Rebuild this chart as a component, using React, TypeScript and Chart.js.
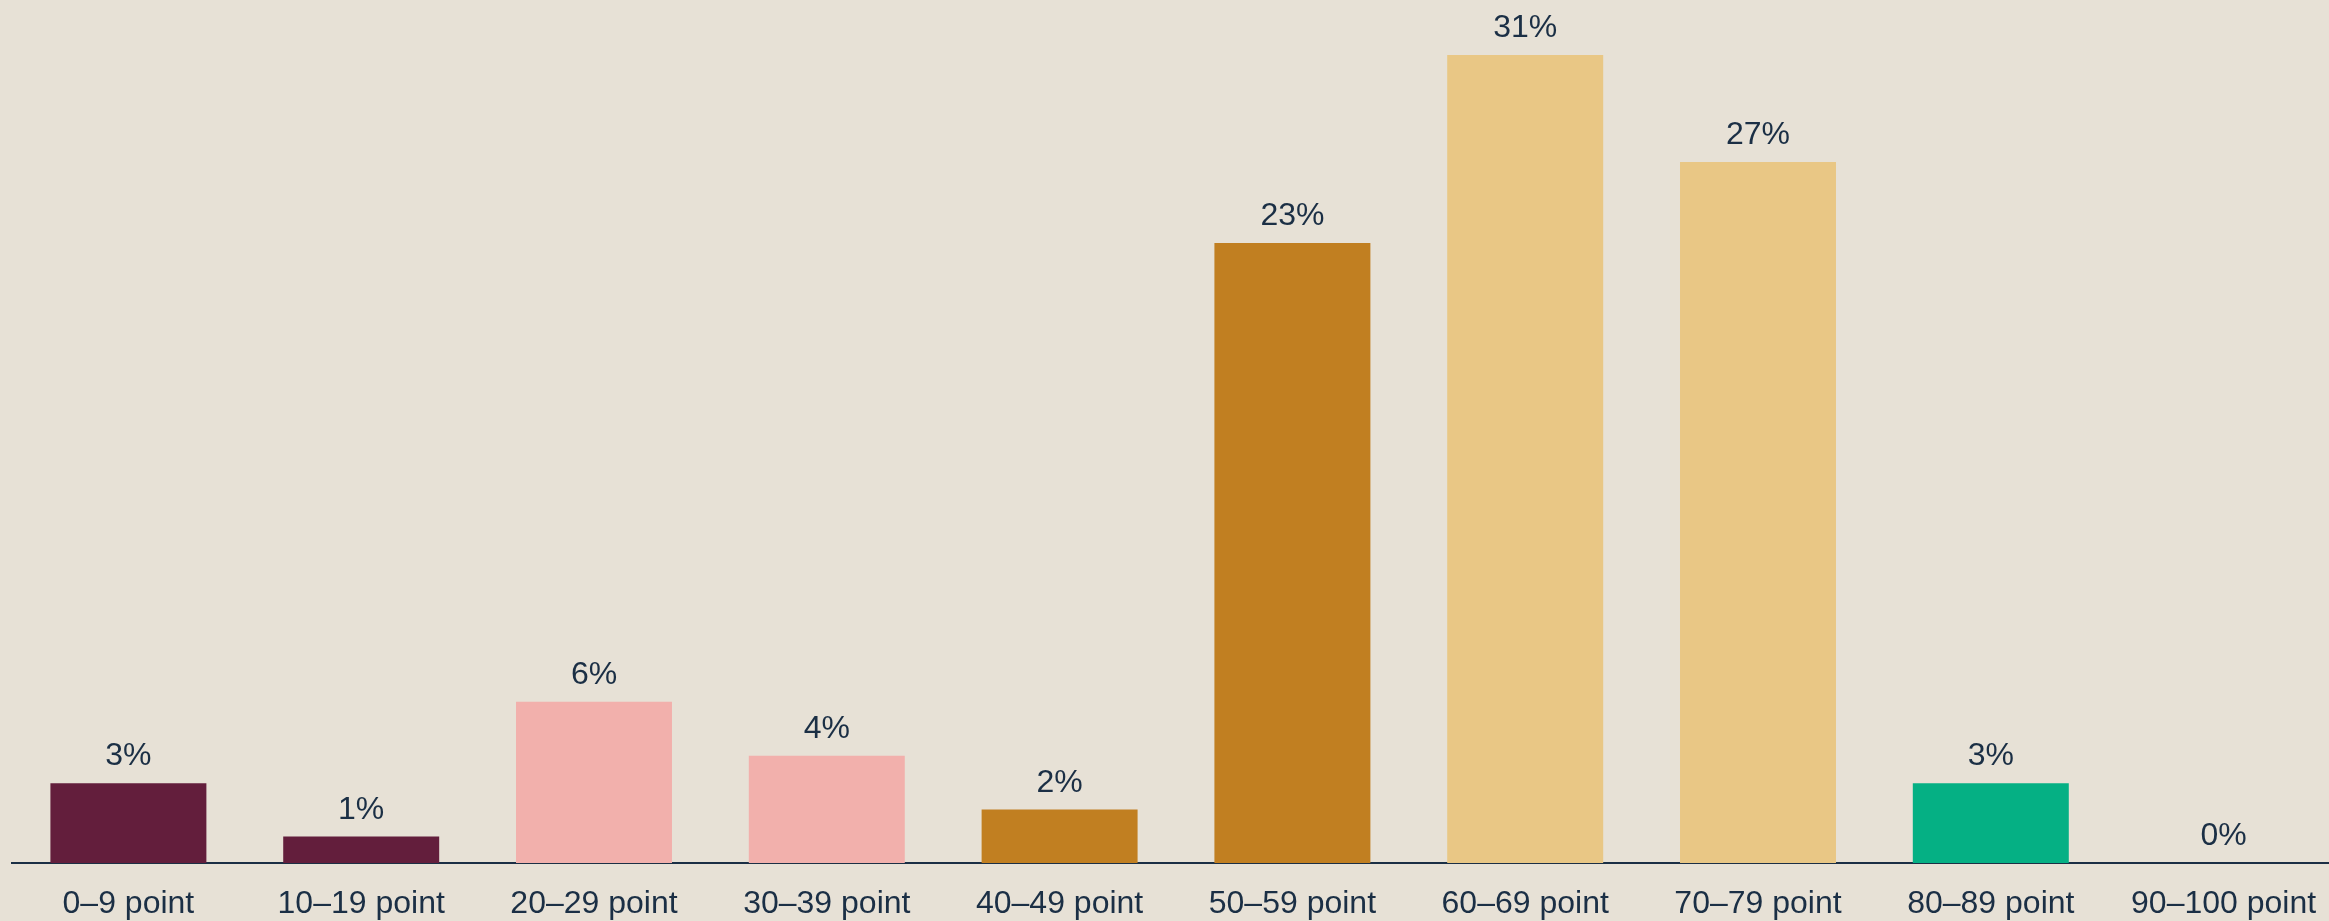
import React, { useEffect, useRef } from "react";
import { Chart, registerables } from "chart.js";

Chart.register(...registerables);

const categories = [
  "0–9 point",
  "10–19 point",
  "20–29 point",
  "30–39 point",
  "40–49 point",
  "50–59 point",
  "60–69 point",
  "70–79 point",
  "80–89 point",
  "90–100 point",
];

// share of respondents (%)
const shares = [3.02, 1.0, 6.1, 4.06, 2.02, 23.45, 30.56, 26.52, 3.02, 0];

// printed labels above the bars
const shareLabels = ["3%", "1%", "6%", "4%", "2%", "23%", "31%", "27%", "3%", "0%"];

const barColors = [
  "#631e3c",
  "#631e3c",
  "#f2b0ac",
  "#f2b0ac",
  "#c17f21",
  "#c17f21",
  "#e9c785",
  "#e9c785",
  "#05b084",
  "#05b084",
];

const TEXT = "#1b2f45";
const BG = "#e7e1d6";
const FONT = "'Liberation Sans', Arial, Helvetica, sans-serif";

const valueLabelPlugin = {
  id: "valueLabels",
  afterDatasetsDraw(chart: any) {
    const ctx = chart.ctx;
    const meta = chart.getDatasetMeta(0);
    ctx.save();
    ctx.fillStyle = TEXT;
    ctx.font = `32px ${FONT}`;
    ctx.textAlign = "center";
    ctx.textBaseline = "alphabetic";
    meta.data.forEach((bar: any, i: number) => {
      ctx.fillText(shareLabels[i], bar.x, bar.y - 18);
    });
    ctx.restore();
  },
};

export default function App() {
  const ref = useRef<HTMLCanvasElement | null>(null);

  useEffect(() => {
    if (!ref.current) return;
    const chart = new Chart(ref.current, {
      type: "bar",
      data: {
        labels: categories,
        datasets: [
          {
            data: shares,
            backgroundColor: barColors,
            borderWidth: 0,
            categoryPercentage: 1,
            barPercentage: 0.67,
          },
        ],
      },
      options: {
        responsive: false,
        animation: false,
        devicePixelRatio: 1,
        layout: { padding: { left: 12, right: 5, top: 17, bottom: 0 } },
        plugins: {
          legend: { display: false },
          tooltip: { enabled: false },
        },
        scales: {
          x: {
            grid: { display: false },
            border: { display: true, color: TEXT, width: 2 },
            ticks: {
              color: TEXT,
              font: { family: FONT, size: 32 },
              padding: 14,
              maxRotation: 0,
              autoSkip: false,
            },
            afterFit(scale: any) {
              scale.height = 58;
            },
          },
          y: {
            display: false,
            min: 0,
            max: 32,
          },
        },
      },
      plugins: [valueLabelPlugin],
    });
    return () => chart.destroy();
  }, []);

  return (
    <div
      style={{
        position: "fixed",
        left: 0,
        top: 0,
        width: 2329,
        height: 921,
        overflow: "hidden",
        background: BG,
      }}
    >
      <canvas ref={ref} width={2345} height={921} style={{ display: "block", width: 2345, height: 921 }} />
    </div>
  );
}
